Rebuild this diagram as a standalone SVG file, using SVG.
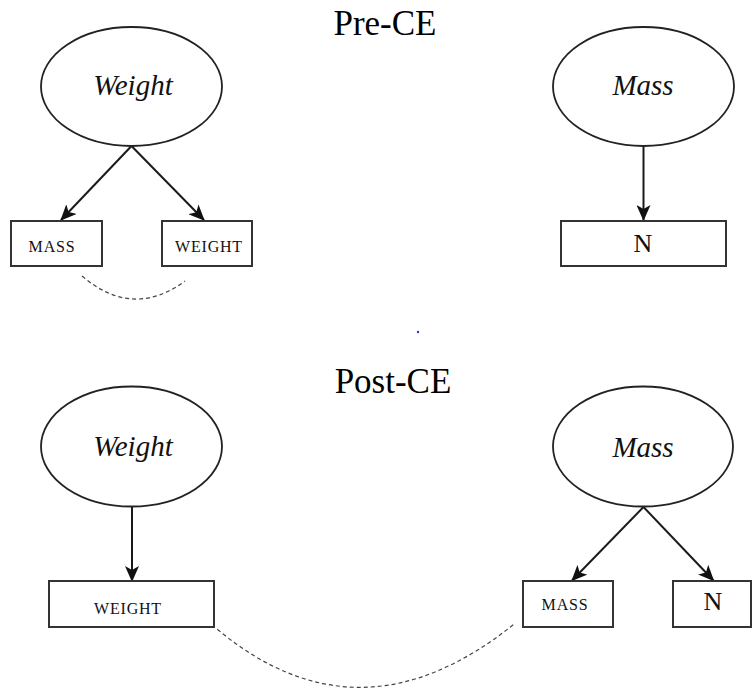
<svg xmlns="http://www.w3.org/2000/svg" width="753" height="688" viewBox="0 0 753 688">
<defs>
<marker id="arr" viewBox="0 0 16 14" refX="15" refY="7" markerWidth="16" markerHeight="14" markerUnits="userSpaceOnUse" orient="auto">
<path d="M0,0 L16,7 L0,14 L4,7 z" fill="#111"/>
</marker>
<style>
.ell{fill:#fff;stroke:#222;stroke-width:1.8}
.box{fill:#fff;stroke:#333;stroke-width:2}
.lat{font-family:"Liberation Serif",serif;font-style:italic;font-size:29px;fill:#111;text-anchor:middle}
.obs{font-family:"Liberation Serif",serif;font-size:16px;letter-spacing:0.8px;fill:#111;text-anchor:middle}
.big{font-family:"Liberation Serif",serif;font-size:26px;fill:#111;text-anchor:middle}
.title{font-family:"Liberation Serif",serif;font-size:35px;fill:#000;text-anchor:middle}
.edge{fill:none;stroke:#1a1a1a;stroke-width:2;marker-end:url(#arr)}
.cov{fill:none;stroke:#444;stroke-width:1.2;stroke-dasharray:4 3}
</style>
</defs>
<rect width="753" height="688" fill="#fff"/>
<text class="title" x="385" y="35">Pre-CE</text>
<text class="title" x="393" y="393">Post-CE</text>
<circle cx="418" cy="332" r="1.2" fill="#2233ee"/>
<g id="connectors">
<line class="edge" x1="131.5" y1="146" x2="61" y2="220"/>
<line class="edge" x1="131.5" y1="146" x2="204" y2="220"/>
<line class="edge" x1="643.5" y1="146" x2="643.5" y2="220"/>
<line class="edge" x1="132" y1="507" x2="132" y2="581"/>
<line class="edge" x1="643.5" y1="507" x2="572" y2="580.5"/>
<line class="edge" x1="643.5" y1="507" x2="713.5" y2="580.5"/>
<path class="cov" d="M82,276 Q132.5,319.5 185,281"/>
<path class="cov" d="M217.3,629.3 Q360.4,748.3 515,623.3"/>
</g>
<g id="pre-weight"><ellipse class="ell" cx="131.5" cy="86.5" rx="90.5" ry="59.5"/><text class="lat" x="133" y="95">Weight</text></g>
<g id="pre-mass"><ellipse class="ell" cx="643.5" cy="86.5" rx="90.5" ry="59.5"/><text class="lat" x="643" y="95">Mass</text></g>
<g id="pre-MASS"><rect class="box" x="11" y="221" width="91" height="45"/><text class="obs" x="52" y="252">MASS</text></g>
<g id="pre-WEIGHT"><rect class="box" x="162" y="221" width="90" height="45"/><text class="obs" x="209" y="252">WEIGHT</text></g>
<g id="pre-N"><rect class="box" x="561" y="221" width="165" height="45"/><text class="big" x="643" y="252">N</text></g>
<g id="post-weight"><ellipse class="ell" cx="131.5" cy="446.5" rx="90.5" ry="60"/><text class="lat" x="133" y="456">Weight</text></g>
<g id="post-mass"><ellipse class="ell" cx="643" cy="446.5" rx="90" ry="60"/><text class="lat" x="643" y="456.5">Mass</text></g>
<g id="post-WEIGHT"><rect class="box" x="49" y="581" width="165" height="46"/><text class="obs" x="128" y="614">WEIGHT</text></g>
<g id="post-MASS"><rect class="box" x="523" y="581" width="90" height="46"/><text class="obs" x="565" y="610">MASS</text></g>
<g id="post-N"><rect class="box" x="673" y="581" width="78" height="46"/><text class="big" x="713" y="610">N</text></g>
</svg>
